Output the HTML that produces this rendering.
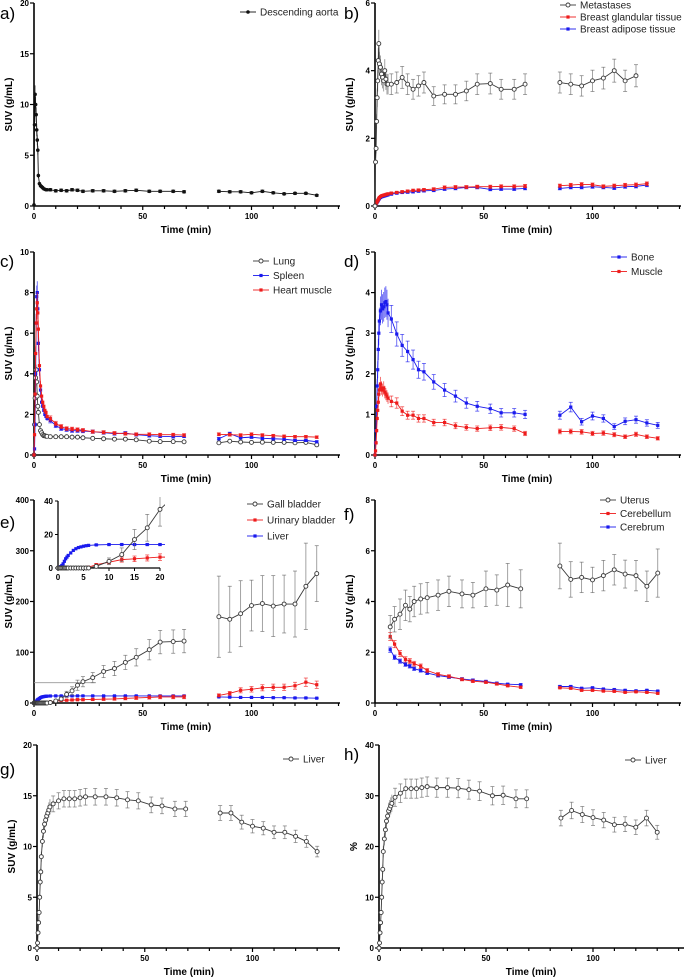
<!DOCTYPE html>
<html><head><meta charset="utf-8">
<style>
html,body{margin:0;padding:0;background:#fff;}
svg{display:block;font-family:"Liberation Sans",Arial,sans-serif;}
</style></head>
<body>
<svg id="fig" width="685" height="979" viewBox="0 0 685 979" xmlns="http://www.w3.org/2000/svg"></svg>
<script>
// ---- shared time points (min) ----
const tEarly=[0,0.25,0.5,0.75,1,1.25,1.5,1.75,2,2.5,3,3.5,4,4.5,5,5.5,6];
const tMid=[7.5,10,12.5,15,17.5,20,22.5,27,32,37,42,47,53,58,64,69];
const tLate=[85,90,95,100,105,110,115,120,125,130];
const tBrain=[7,9,11.5,14,16,18,21,24,29,34,40,45,51,56,61,67];

// ---- a) descending aorta ----
const aortaEarly=[0.1,8,11,10,9,7.5,6.5,5.5,3,2.2,2,1.9,1.8,1.7,1.65,1.6,1.6];
const aortaMid=[1.6,1.5,1.55,1.5,1.6,1.55,1.45,1.5,1.5,1.45,1.5,1.55,1.45,1.45,1.45,1.4];
const aortaLate=[1.45,1.4,1.4,1.3,1.45,1.3,1.2,1.25,1.25,1.05];
// ---- b) ----
const metEarly=[0,1.3,1.7,2.5,3.2,3.7,4.3,4.8,4.2,4.1,3.9,3.8,3.7,4.0,3.75,3.6,3.6];
const metMid=[3.6,3.65,3.8,3.6,3.45,3.55,3.65,3.25,3.3,3.3,3.4,3.6,3.62,3.45,3.45,3.6];
const metLate=[3.65,3.6,3.55,3.7,3.78,4.0,3.7,3.85];
const glandEarly=[0,0.03,0.06,0.1,0.13,0.16,0.19,0.22,0.25,0.28,0.3,0.31,0.32,0.33,0.34,0.35,0.36];
const glandMid=[0.38,0.4,0.42,0.44,0.46,0.47,0.48,0.5,0.55,0.56,0.56,0.57,0.57,0.58,0.58,0.59];
const glandLate=[0.6,0.62,0.64,0.63,0.58,0.6,0.62,0.63,0.66];
const adipEarly=[0,0.03,0.05,0.09,0.12,0.14,0.17,0.2,0.22,0.25,0.27,0.28,0.29,0.3,0.31,0.32,0.33];
const adipMid=[0.35,0.38,0.4,0.41,0.42,0.44,0.45,0.46,0.5,0.52,0.55,0.55,0.49,0.5,0.5,0.52];
const adipLate=[0.52,0.55,0.55,0.57,0.55,0.53,0.57,0.58,0.62];
// ---- c) ----
const lungEarly=[0,1.5,2.8,3.8,4.2,3.6,2.9,2.4,2.1,1.5,1.2,1.1,1.0,0.95,0.95,0.92,0.92];
const lungMid=[0.9,0.9,0.9,0.9,0.88,0.88,0.85,0.82,0.8,0.78,0.78,0.75,0.68,0.66,0.66,0.65];
const lungLate=[0.6,0.68,0.64,0.62,0.63,0.62,0.62,0.6,0.62,0.5];
const spleenEarly=[0,0.3,1.5,4,6.5,7.8,8.0,7.2,5.5,4.2,3.2,2.6,2.4,2.2,2.0,1.9,1.8];
const spleenMid=[1.7,1.45,1.3,1.25,1.2,1.2,1.18,1.15,1.1,1.05,1.08,1.0,0.95,0.92,0.9,0.92];
const spleenLate=[0.8,1.05,0.85,0.88,0.82,0.8,0.78,0.72,0.72,0.65];
const heartEarly=[0,1,3,5,6.5,7.2,7.5,7.0,6.2,4.4,3.4,2.9,2.6,2.4,2.2,2.1,1.9];
const heartMid=[1.8,1.55,1.4,1.3,1.28,1.25,1.22,1.15,1.12,1.08,1.05,1.02,1.02,1.0,1.0,0.98];
const heartLate=[1.02,1.0,0.98,1.02,0.98,0.95,0.92,0.9,0.9,0.88];
// ---- d) ----
const boneEarly=[0,0.3,0.6,1.2,1.7,2.1,2.6,3.0,3.3,3.55,3.7,3.6,3.65,3.75,3.78,3.7,3.5];
const boneMid=[3.35,2.98,2.7,2.55,2.35,2.1,2.05,1.8,1.6,1.45,1.28,1.2,1.14,1.04,1.04,1.0];
const boneLate=[0.98,1.18,0.82,0.96,0.9,0.7,0.83,0.87,0.79,0.73];
const muscleEarly=[0,0.1,0.3,0.6,0.9,1.1,1.3,1.5,1.6,1.75,1.65,1.6,1.65,1.55,1.5,1.45,1.4];
const muscleMid=[1.32,1.28,1.08,0.98,0.98,0.9,0.9,0.8,0.8,0.72,0.68,0.65,0.67,0.68,0.65,0.53];
const muscleLate=[0.58,0.58,0.57,0.53,0.54,0.5,0.45,0.51,0.45,0.41];
// ---- e) ----
const gallEarly=[0,0,0,0,0,0,0,0,0,0,0,0,0,0,0,0,0];
const gallMid=[1,4,8,17,24,35,42,50,62,68,80,90,105,120,121,122];
const gallMidErr=[1,2,4,6,8,10,10,10,12,14,14,17,20,23,23,23];
const gallLate=[170,165,176,192,196,191,195,195,230,255];
const gallLateErr=[80,65,65,50,55,60,57,65,85,55];
const urinEarly=[0,0,0,0,0,0,0,0,0,0,0,0,0,0,0,0,0.5];
const urinMid=[2,3.5,5,5.5,6,6.5,6.5,7,7.5,8,9,10,11,12,12,12];
const urinLate=[15,19,25,27,30,31,31,34,41,36];
const livEEarly=[0,0.3,0.8,1.5,2.5,4,5.5,6.5,7.5,9,10.5,11.5,12.2,12.6,13,13.3,13.5];
const livEMid=[13.8,14,14,14,14,14,14,14,14,14,14,14,14,14,14,14];
const livELate=[12,11.5,11,11,11,10.5,10.5,10,10,9.5];
// ---- f) ----
const uterus=[3.0,3.3,3.5,3.85,3.7,4.0,4.1,4.15,4.25,4.4,4.3,4.25,4.5,4.45,4.65,4.5];
const uterusErr=[0.45,0.5,0.6,0.6,0.5,0.6,0.6,0.6,0.6,0.6,0.55,0.5,0.7,0.6,0.85,0.75];
const uterusLate=[5.4,4.87,4.95,4.85,5.02,5.25,5.08,5.02,4.6,5.12];
const uterusLateErr=[0.9,0.7,0.6,0.5,0.6,0.6,0.55,0.6,0.6,0.95];
const cbl=[2.62,2.32,1.95,1.72,1.65,1.55,1.45,1.28,1.13,1.05,0.93,0.86,0.82,0.75,0.68,0.62];
const cblLate=[0.6,0.58,0.5,0.5,0.47,0.46,0.42,0.44,0.42,0.38];
const cbr=[2.1,1.8,1.65,1.52,1.45,1.35,1.28,1.18,1.08,1.02,0.95,0.9,0.85,0.78,0.74,0.72];
const cbrLate=[0.65,0.65,0.58,0.6,0.55,0.53,0.5,0.48,0.5,0.47];
// ---- g) h) ----
const livGEarly=[0,0.5,1.5,2.5,3.5,5,6.5,7.5,9,10.5,11.5,12.2,12.6,13,13.3,13.6,13.9];
const livGMid=[14.2,14.5,14.7,14.7,14.7,14.8,14.9,14.9,14.9,14.8,14.6,14.5,14.1,14.0,13.7,13.7];
const livGLate=[13.3,13.3,12.4,12,11.8,11.4,11.4,11,10.5,9.5];
const livHEarly=[0,1,3,5,7,10,13,15.5,19,21.5,23.3,25,26,27,27.5,28,28.5];
const livHMid=[29.7,30.5,31.4,31.4,31.4,31.6,31.8,31.6,31.6,31.5,31.2,30.9,30,30.1,29.4,29.4];
const livHLate=[25.6,27.1,26.3,25.7,25.2,24.3,24.4,23.8,25.6,22.8];

const NS="http://www.w3.org/2000/svg";
const svg=document.getElementById('fig');
function mk(tag,attrs,parent){const e=document.createElementNS(NS,tag);for(const k in attrs)e.setAttribute(k,attrs[k]);(parent||svg).appendChild(e);return e;}
function txt(s,attrs,parent){const e=mk('text',attrs,parent);e.textContent=s;return e;}

const GRAY='#3a3a3a',RED='#ee1c1c',BLUE='#1a1aee',BLACK='#111';

function makePanel(p){
  const g=mk('g',{});
  
  
  p.sx=t=>p.x0+t*p.ppm;
  p.sy=v=>p.y0-v/p.ymax*(p.y0-p.ytop);
  const ax=mk('line',{x1:p.x0,y1:p.y0,x2:p.xr,y2:p.y0,stroke:'#000','stroke-width':1.6},g);
  
  
  const ay=mk('line',{x1:p.x0,y1:p.ytop,x2:p.x0,y2:p.y0,stroke:'#000','stroke-width':1.6},g);
  
  
  for(let t=0;t<=140;t+=10){
    const x=p.sx(t);if(x>p.xr+0.5)break;
    mk('line',{x1:x,y1:p.y0,x2:x,y2:p.y0+(t%50===0?4:3),stroke:'#000','stroke-width':1.2},g);
    if(t%50===0){const l=txt(String(t),{x:x,y:p.y0+13,'font-size':8,'font-weight':'bold','text-anchor':'middle'},g);
      
      }
  }
  p.yticks.forEach(v=>{const y=p.sy(v);
    mk('line',{x1:p.x0-4,y1:y,x2:p.x0,y2:y,stroke:'#000','stroke-width':1.2},g);
    const l=txt(String(v),{x:p.x0-5,y:y+3,'font-size':8,'font-weight':'bold','text-anchor':'end'},g);
    
    });
  const xt=txt('Time (min)',{x:p.x0+152,y:p.y0+27,'font-size':10,'font-weight':'bold','text-anchor':'middle'},g);
  
  
  const cy=(p.y0+p.ytop)/2;
  const yt=txt(p.ylab,{x:0,y:0,'font-size':10,'font-weight':'bold','text-anchor':'middle',transform:`translate(${p.x0-22},${cy}) rotate(-90)`},g);
  
  
  const pl=txt(p.id+')',{x:p.lx,y:p.ly,'font-size':17},g);
  
  
  p.g=g;return p;
}
function marker(g,x,y,col,kind){
  if(kind==='open')mk('circle',{cx:x,cy:y,r:2,fill:'#fff',stroke:col,'stroke-width':0.9},g);
  else if(kind==='dot')mk('circle',{cx:x,cy:y,r:1.8,fill:col},g);
  else mk('rect',{x:x-1.6,y:y-1.6,width:3.2,height:3.2,fill:col},g);
}
function series(p,name,ts,vs,errs,col,kind,clip){
  const g=mk('g',clip?{'clip-path':clip}:{},p.g);
  
  
  const sx=clip?p.isx:p.sx, sy=clip?p.isy:p.sy;
  const ecol=col===GRAY?'#666':col;
  ts.forEach((t,i)=>{const e=errs[i];if(!e)return;const x=sx(t);
    mk('line',{x1:x,y1:sy(vs[i]-e),x2:x,y2:sy(vs[i]+e),stroke:ecol,'stroke-width':0.8,opacity:0.75},g);
    if(t>6){mk('line',{x1:x-2,y1:sy(vs[i]-e),x2:x+2,y2:sy(vs[i]-e),stroke:ecol,'stroke-width':0.8,opacity:0.75},g);
    mk('line',{x1:x-2,y1:sy(vs[i]+e),x2:x+2,y2:sy(vs[i]+e),stroke:ecol,'stroke-width':0.8,opacity:0.75},g);}});
  mk('polyline',{points:ts.map((t,i)=>sx(t)+','+sy(vs[i])).join(' '),fill:'none',stroke:col,'stroke-width':0.9},g);
  ts.forEach((t,i)=>marker(g,sx(t),sy(vs[i]),col,kind));
}
function plot(p,name,early,mid,late,col,kind,eFrac,lateT){
  const tDyn=tEarly.concat(tMid), vDyn=early.concat(mid);
  series(p,name+'-dynamic',tDyn,vDyn,vDyn.map(v=>v*eFrac),col,kind);
  const tl=(lateT||tLate).slice(0,late.length);
  series(p,name+'-late',tl,late,late.map(v=>v*eFrac),col,kind);
}
function legend(p,items,lx,ly,dy){
  items.forEach((it,i)=>{const y=ly+i*dy;const g=mk('g',{},p.g);
    
    
    mk('line',{x1:lx,y1:y,x2:lx+16,y2:y,stroke:it[1],'stroke-width':0.9},g);
    marker(g,lx+8,y,it[1],it[2]);
    txt(it[0],{x:lx+20,y:y+3.5,'font-size':10,fill:'#222'},g);});
}

const A=makePanel({id:'a',x0:34,y0:206,ytop:3,ymax:20,ppm:2.175,xr:340,yticks:[0,5,10,15,20],ylab:'SUV (g/mL)',lx:0,ly:19});
plot(A,'descending-aorta',aortaEarly,aortaMid,aortaLate,BLACK,'dot',0.08);
legend(A,[['Descending aorta',BLACK,'dot']],240,12,0);

const B=makePanel({id:'b',x0:375,y0:206,ytop:3,ymax:6,ppm:2.175,xr:681,yticks:[0,2,4,6],ylab:'SUV (g/mL)',lx:344,ly:19});
plot(B,'breast-adipose',adipEarly,adipMid,adipLate,BLUE,'sq',0.08);
plot(B,'breast-glandular',glandEarly,glandMid,glandLate,RED,'sq',0.08);
plot(B,'metastases',metEarly,metMid,metLate,GRAY,'open',0.085);
legend(B,[['Metastases',GRAY,'open'],['Breast glandular tissue',RED,'sq'],['Breast adipose tissue',BLUE,'sq']],560,5,12);

const C=makePanel({id:'c',x0:34,y0:455,ytop:252,ymax:10,ppm:2.175,xr:340,yticks:[0,2,4,6,8,10],ylab:'SUV (g/mL)',lx:0,ly:267});
plot(C,'lung',lungEarly,lungMid,lungLate,GRAY,'open',0.06);
plot(C,'spleen',spleenEarly,spleenMid,spleenLate,BLUE,'sq',0.07);
plot(C,'heart-muscle',heartEarly,heartMid,heartLate,RED,'sq',0.07);
legend(C,[['Lung',GRAY,'open'],['Spleen',BLUE,'sq'],['Heart muscle',RED,'sq']],253,261,14.5);

const D=makePanel({id:'d',x0:375,y0:455,ytop:252,ymax:5,ppm:2.175,xr:681,yticks:[0,1,2,3,4,5],ylab:'SUV (g/mL)',lx:344,ly:267});
plot(D,'bone',boneEarly,boneMid,boneLate,BLUE,'sq',0.1);
plot(D,'muscle',muscleEarly,muscleMid,muscleLate,RED,'sq',0.1);
legend(D,[['Bone',BLUE,'sq'],['Muscle',RED,'sq']],611,257,14.5);

const E=makePanel({id:'e',x0:34,y0:703,ytop:500,ymax:400,ppm:2.175,xr:340,yticks:[0,100,200,300,400],ylab:'SUV (g/mL)',lx:0,ly:528});
mk('line',{x1:34,y1:E.sy(40),x2:96,y2:E.sy(40),stroke:'#999','stroke-width':0.8},E.g);
const tDynE=tEarly.concat(tMid);
series(E,'liver-dynamic',tDynE,livEEarly.concat(livEMid),tDynE.map(()=>0.8),BLUE,'sq');
series(E,'liver-late',tLate,livELate,tLate.map(()=>0.8),BLUE,'sq');
series(E,'urinary-bladder-dynamic',tDynE,urinEarly.concat(urinMid),urinEarly.concat(urinMid).map(v=>v*0.3),RED,'sq');
series(E,'urinary-bladder-late',tLate,urinLate,urinLate.map(v=>v*0.2),RED,'sq');
series(E,'gall-bladder-dynamic',tDynE,gallEarly.concat(gallMid),tEarly.map(()=>0).concat(gallMidErr),GRAY,'open');
series(E,'gall-bladder-late',tLate,gallLate,gallLateErr,GRAY,'open');
legend(E,[['Gall bladder',GRAY,'open'],['Urinary bladder',RED,'sq'],['Liver',BLUE,'sq']],247,504,16);
// inset
E.ix0=58;E.iy0=568;E.isx=t=>E.ix0+t*5.1;E.isy=v=>E.iy0-v*1.675;
(function(){const g=mk('g',{},E.g);
  
  
  mk('rect',{x:E.ix0-1,y:496,width:110,height:76,fill:'#fff'},g);
  mk('clipPath',{id:'ic'},svg).appendChild((()=>{const r=document.createElementNS(NS,'rect');r.setAttribute('x',E.ix0-3);r.setAttribute('y',497);r.setAttribute('width',110);r.setAttribute('height',75);return r;})());
  mk('line',{x1:E.ix0,y1:E.iy0,x2:E.isx(20),y2:E.iy0,stroke:'#000','stroke-width':1.3},g);
  mk('line',{x1:E.ix0,y1:E.isy(40),x2:E.ix0,y2:E.iy0,stroke:'#000','stroke-width':1.3},g);
  [0,5,10,15,20].forEach(t=>{const x=E.isx(t);mk('line',{x1:x,y1:E.iy0,x2:x,y2:E.iy0+3,stroke:'#000'},g);
    txt(String(t),{x:x,y:E.iy0+12,'font-size':8,'font-weight':'bold','text-anchor':'middle'},g);});
  [0,20,40].forEach(v=>{const y=E.isy(v);mk('line',{x1:E.ix0-3,y1:y,x2:E.ix0,y2:y,stroke:'#000'},g);
    txt(String(v),{x:E.ix0-5,y:y+3,'font-size':8,'font-weight':'bold','text-anchor':'end'},g);});
})();
series(E,'inset-liver',tDynE,livEEarly.concat(livEMid),tDynE.map(()=>0.4),BLUE,'sq','url(#ic)');
series(E,'inset-urinary-bladder',tDynE,urinEarly.concat(urinMid),urinEarly.concat(urinMid).map(v=>v*0.3),RED,'sq','url(#ic)');
series(E,'inset-gall-bladder',tDynE,gallEarly.concat(gallMid),tEarly.map(()=>0).concat(gallMidErr),GRAY,'open','url(#ic)');

const F=makePanel({id:'f',x0:375,y0:703,ytop:500,ymax:8,ppm:2.175,xr:681,yticks:[0,2,4,6,8],ylab:'SUV (g/mL)',lx:344,ly:520});
series(F,'cerebrum-dynamic',tBrain,cbr,cbr.map(v=>v*0.05),BLUE,'sq');
series(F,'cerebrum-late',tLate,cbrLate,cbrLate.map(v=>v*0.05),BLUE,'sq');
series(F,'cerebellum-dynamic',tBrain,cbl,cbl.map(v=>v*0.06),RED,'sq');
series(F,'cerebellum-late',tLate,cblLate,cblLate.map(v=>v*0.06),RED,'sq');
series(F,'uterus-dynamic',tBrain,uterus,uterusErr,GRAY,'open');
series(F,'uterus-late',tLate,uterusLate,uterusLateErr,GRAY,'open');
legend(F,[['Uterus',GRAY,'open'],['Cerebellum',RED,'sq'],['Cerebrum',BLUE,'sq']],600,500,13.5);

const G=makePanel({id:'g',x0:37,y0:948,ytop:745,ymax:20,ppm:2.155,xr:340,yticks:[0,5,10,15,20],ylab:'SUV (g/mL)',lx:0,ly:775});
plot(G,'liver',livGEarly,livGMid,livGLate,GRAY,'open',0.055);
legend(G,[['Liver',GRAY,'open']],283,759,0);

const H=makePanel({id:'h',x0:379,y0:948,ytop:745,ymax:40,ppm:2.14,xr:684,yticks:[0,10,20,30,40],ylab:'%',lx:344,ly:760});
plot(H,'liver',livHEarly,livHMid,livHLate,GRAY,'open',0.06);
legend(H,[['Liver',GRAY,'open']],625,760,0);
</script>
</body></html>
